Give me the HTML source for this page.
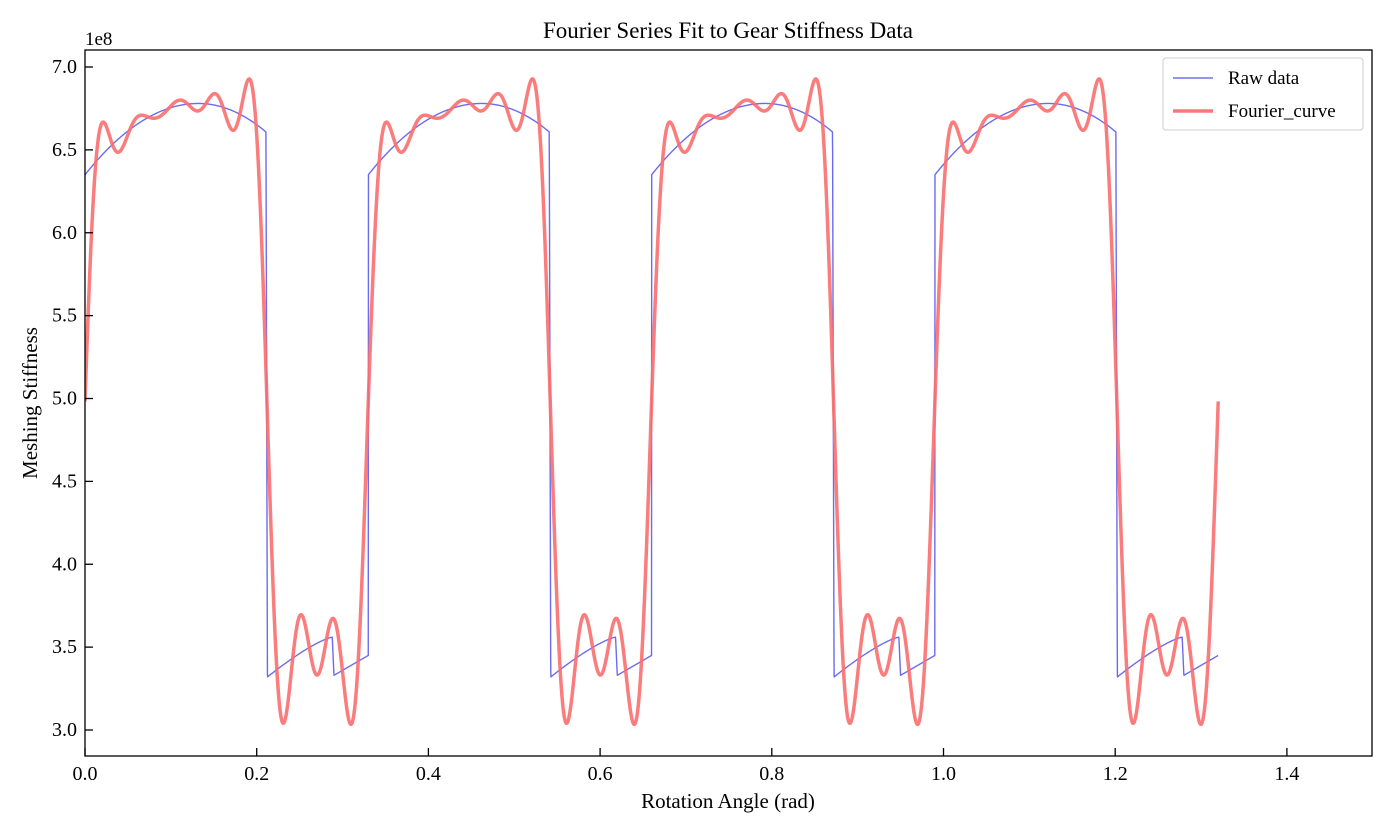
<!DOCTYPE html>
<html><head><meta charset="utf-8"><style>
body{margin:0;background:#fff}
svg text{font-family:"Liberation Serif",serif;fill:#000}
</style></head><body>
<svg id="s" width="1396" height="828" xmlns="http://www.w3.org/2000/svg">
<rect width="1396" height="828" fill="#fff"/>
<g id="plot"></g>
<rect x="85" y="50" width="1287" height="706" fill="none" stroke="#000" stroke-width="1.3"/>
<g id="ticks" font-size="20"></g>
<text x="728" y="38" font-size="23" text-anchor="middle">Fourier Series Fit to Gear Stiffness Data</text>
<text x="728" y="808" font-size="21" text-anchor="middle">Rotation Angle (rad)</text>
<text transform="translate(37,403) rotate(-90)" font-size="21" text-anchor="middle">Meshing Stiffness</text>
<text x="85" y="45" font-size="19">1e8</text>
<rect x="1163" y="58" width="200" height="72" fill="#fff" stroke="#ccc" rx="3"/>
<line x1="1173" y1="78" x2="1213" y2="78" stroke="#7070ee" stroke-width="1.5"/>
<text x="1228" y="84" font-size="19">Raw data</text>
<line x1="1173" y1="111" x2="1213" y2="111" stroke="#f87878" stroke-width="3.5"/>
<text x="1228" y="117" font-size="19">Fourier_curve</text>
</svg>
<script>
const X=x=>85+x*858.5, Y=v=>67+(7-v)*165.75;
const P=0.33;
function raw(x){let t=x-Math.floor(x/P+1e-9)*P;
 if(t<0.2108) return 6.78-24.7*(t-0.132)**2 - (t>0.132?3*(t-0.132)**2:0);
 if(t<0.2125) return 6.58+(3.32-6.58)*(t-0.2108)/0.0017;
 if(t<0.288) return 3.32+0.24*(1-Math.pow(1-(t-0.2125)/0.0755,1.3));
 if(t<0.290) return 3.56-0.23*(t-0.288)/0.002;
 return 3.33+0.12*(t-0.290)/0.04;}
let N=2000,a=[],b=[],H=8;
for(let k=0;k<=H;k++){let sa=0,sb=0;for(let i=0;i<N;i++){let t=(i+0.5)/N*P,v=raw(t),w=2*Math.PI*k*t/P;sa+=v*Math.cos(w);sb+=v*Math.sin(w);}a[k]=sa*2/N;b[k]=sb*2/N;}
a[0]/=2;
function f(x){let s=a[0];for(let k=1;k<=H;k++){let w=2*Math.PI*k*x/P;s+=a[k]*Math.cos(w)+b[k]*Math.sin(w);}return s;}
let pr="",pf="";
for(let i=0;i<=6000;i++){let x=i/6000*1.3198;pr+=(i?"L":"M")+X(x).toFixed(2)+","+Y(raw(x)).toFixed(2);}
for(let i=0;i<=3000;i++){let x=i/3000*1.32;pf+=(i?"L":"M")+X(x).toFixed(2)+","+Y(f(x)).toFixed(2);}
let g=document.getElementById("plot");
g.innerHTML=`<defs><clipPath id="c"><rect x="85" y="50" width="1287" height="706"/></clipPath></defs>
<g clip-path="url(#c)"><path d="${pr}" fill="none" stroke="#6b6bee" stroke-width="1.4" stroke-linejoin="round"/>
<path d="${pf}" fill="none" stroke="#fa6e6e" stroke-opacity="0.9" stroke-width="3.5" stroke-linejoin="round"/></g>`;
let t="";
for(let i=0;i<=7;i++){let x=X(i*0.2);t+=`<line x1="${x}" y1="756" x2="${x}" y2="748" stroke="#000" stroke-width="1.3"/><text x="${x}" y="780" text-anchor="middle">${(i*0.2).toFixed(1)}</text>`;}
for(let i=0;i<=8;i++){let v=3+i*0.5,y=Y(v);t+=`<line x1="85" y1="${y}" x2="93" y2="${y}" stroke="#000" stroke-width="1.3"/><text x="77" y="${y+6}" text-anchor="end">${v.toFixed(1)}</text>`;}
document.getElementById("ticks").innerHTML=t;
</script>
</body></html>
